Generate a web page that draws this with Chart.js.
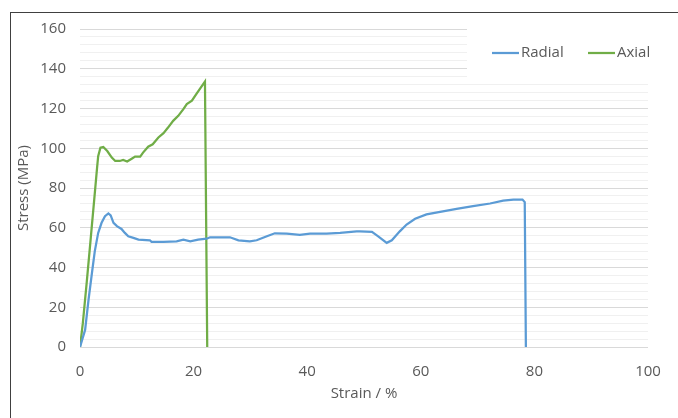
<!DOCTYPE html>
<html>
<head>
<meta charset="utf-8">
<script src="https://cdn.jsdelivr.net/npm/chart.js@4.4.1/dist/chart.umd.min.js"></script>
<style>
  html, body { margin: 0; padding: 0; background: #fff; overflow: hidden; }
  #frame { position: absolute; left: 10px; top: 12px; width: 800px; height: 600px; border: 1px solid #404040; }
  #wrap { position: absolute; left: 0; top: 0; width: 678px; height: 418px; }
</style>
</head>
<body>
<div id="frame"></div>
<div id="wrap"><canvas id="myChart" width="678" height="418"></canvas></div>
<script>
// strain (%) / stress (MPa)
var radialStrain = [0, 0.9, 1.5, 2.1, 2.6, 3.2, 3.8, 4.4, 5.0, 5.4, 5.9, 6.5, 7.3, 7.9, 8.5, 9.4, 10.3, 12.3, 12.6, 14.7, 17.0, 18.2, 19.4, 20.8, 22.3, 22.9, 26.4, 27.9, 29.9, 31.1, 32.9, 34.3, 36.4, 38.7, 40.5, 43.4, 45.8, 48.7, 49.3, 51.4, 52.5, 54.0, 54.9, 56.3, 57.5, 59.0, 61.0, 63.4, 66.3, 69.2, 72.2, 74.5, 76.3, 77.9, 78.3, 78.5];
var radialStress = [0, 8.6, 23.7, 37.2, 48.1, 57.4, 62.5, 65.8, 67.2, 66.2, 62.5, 60.8, 59.4, 57.4, 55.7, 54.9, 54.0, 53.7, 52.9, 52.9, 53.2, 54.0, 53.2, 54.0, 54.5, 55.2, 55.2, 53.7, 53.2, 53.7, 55.7, 57.2, 57.1, 56.4, 57.1, 57.1, 57.4, 58.2, 58.2, 57.9, 55.7, 52.4, 53.7, 58.2, 61.6, 64.5, 66.7, 68.0, 69.5, 70.9, 72.2, 73.6, 74.2, 74.2, 72.9, 0];
var axialStrain = [0, 0.5, 1.2, 1.9, 2.5, 3.0, 3.2, 3.6, 4.1, 4.8, 5.6, 6.2, 7.0, 7.6, 8.3, 9.1, 9.7, 10.6, 11.1, 12.0, 12.8, 13.8, 14.7, 15.5, 16.4, 17.3, 18.2, 18.8, 19.7, 20.5, 21.2, 22.0, 22.4];
var axialStress = [0, 12, 33, 55, 74, 90, 96, 100.3, 100.6, 98.6, 95.3, 93.6, 93.6, 94.1, 93.3, 94.7, 95.8, 95.8, 97.8, 100.8, 102, 105.4, 107.6, 110.4, 113.8, 116.3, 119.7, 122.2, 123.9, 127.3, 130.2, 133.5, 0];

var seriesNames = ["Radial", "Axial"];
var seriesColors = ["#5b9bd5", "#70ad47"];
var xTicks = [0, 20, 40, 60, 80, 100];

function pts(xs, ys) {
  return xs.map(function (x, i) { return { x: x, y: ys[i] }; });
}

var txt = "#595959";
var fnt = { family: "'Open Sans', sans-serif", size: 15 };

// legend box sits on top of the grid (white background like the excel one)
var legendBox = {
  id: "legendBox",
  afterDatasetsDraw: function (chart) {
    var c = chart.ctx;
    c.save();
    c.fillStyle = "#fff";
    c.fillRect(467, 26, 190, 56);
    c.font = "15px 'Open Sans', sans-serif";
    c.textBaseline = "middle";
    var xs = [492, 588];
    for (var i = 0; i < seriesNames.length; i++) {
      c.strokeStyle = seriesColors[i];
      c.lineWidth = 2.25;
      c.beginPath();
      c.moveTo(xs[i], 53);
      c.lineTo(xs[i] + 27, 53);
      c.stroke();
      c.fillStyle = txt;
      c.fillText(seriesNames[i], xs[i] + 29, 53);
    }
    c.restore();
  }
};

var mychart = new Chart("myChart", {
  type: "line",
  data: {
    datasets: [
      { label: seriesNames[0], data: pts(radialStrain, radialStress), borderColor: seriesColors[0] },
      { label: seriesNames[1], data: pts(axialStrain, axialStress), borderColor: seriesColors[1] }
    ]
  },
  options: {
    responsive: false,
    animation: false,
    parsing: false,
    elements: {
      line: { borderWidth: 2.25, tension: 0, fill: false },
      point: { radius: 0 }
    },
    layout: { padding: { top: 29, right: 30, left: 0, bottom: 13 } },
    plugins: { legend: { display: false }, tooltip: { enabled: false } },
    scales: {
      x: {
        type: "linear",
        min: 0, max: 100,
        afterBuildTicks: function (s) { s.ticks = xTicks.map(function (v) { return { value: v }; }); },
        afterFit: function (s) { s.height = 58; },
        grid: { display: false },
        border: { display: false },
        ticks: { color: txt, font: fnt, padding: 8, maxRotation: 0 },
        title: { display: true, text: "Strain / %", color: txt, font: fnt, padding: { top: 2, bottom: 2 } }
      },
      y: {
        min: 0, max: 160,
        afterFit: function (s) { s.width = 80; },
        ticks: {
          stepSize: 4, autoSkip: false, color: txt, font: fnt, padding: 14,
          callback: function (v) { return v % 20 === 0 ? v : ""; }
        },
        grid: {
          drawTicks: false,
          color: function (ctx) { return ctx.tick.value % 20 === 0 ? "#d9d9d9" : "#f0f0f0"; }
        },
        border: { display: false },
        title: { display: true, text: "Stress (MPa)", color: txt, font: fnt, padding: { top: 15, bottom: 0 } }
      }
    }
  },
  plugins: [legendBox]
});
</script>
</body>
</html>
